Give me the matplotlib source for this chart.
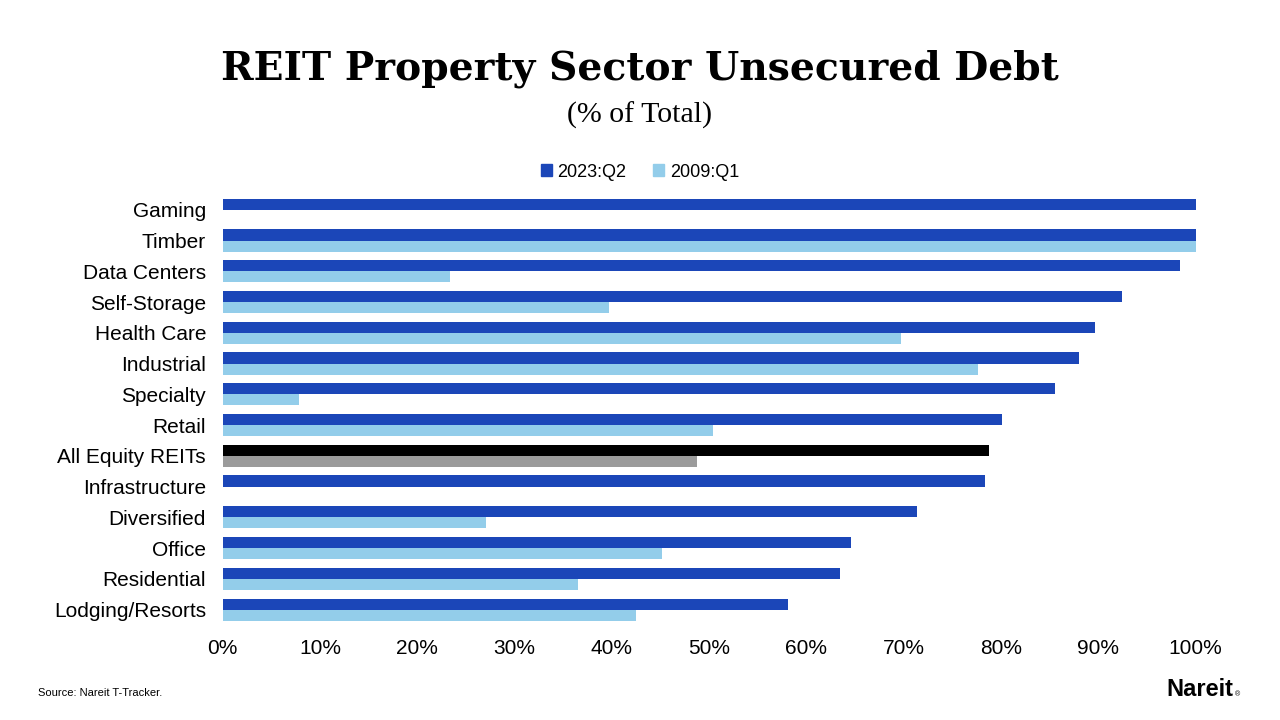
import numpy as np
import matplotlib
matplotlib.use("Agg")
import matplotlib.pyplot as plt
from matplotlib.patches import Patch

sectors = ["Gaming", "Timber", "Data Centers", "Self-Storage", "Health Care",
           "Industrial", "Specialty", "Retail", "All Equity REITs", "Infrastructure",
           "Diversified", "Office", "Residential", "Lodging/Resorts"]
q2_2023 = [100.0, 100.0, 98.4, 92.4, 89.7, 88.0, 85.6, 80.1, 78.8, 78.4, 71.4, 64.6, 63.5, 58.1]
q1_2009 = [0.0, 100.0, 23.4, 39.7, 69.7, 77.6, 7.8, 50.4, 48.8, 0.0, 27.1, 45.2, 36.5, 42.5]
xticks = [0, 10, 20, 30, 40, 50, 60, 70, 80, 90, 100]

dark_blue = "#1b46b8"
light_blue = "#93cdea"
highlight = "All Equity REITs"

plt.rcParams['font.family'] = ['Liberation Sans', 'DejaVu Sans']

fig = plt.figure(figsize=(12.8, 7.2), dpi=100)
ax = fig.add_axes([0.174, 0.132, 0.760, 0.598])

y = np.arange(len(sectors))
h = 0.36
c1 = ['black' if s == highlight else dark_blue for s in sectors]
c2 = ['#9b9b9b' if s == highlight else light_blue for s in sectors]
ax.barh(y - h / 2, q2_2023, height=h, color=c1)
ax.barh(y + h / 2, q1_2009, height=h, color=c2)

ax.set_ylim(len(sectors) - 0.5, -0.5)
ax.set_xlim(0, 100)
ax.set_yticks(y)
ax.set_yticklabels(sectors, fontsize=15)
ax.set_xticks(xticks)
ax.set_xticklabels(["%d%%" % v for v in xticks], fontsize=15)
ax.tick_params(axis='both', length=0)
ax.tick_params(axis='y', pad=12)
ax.tick_params(axis='x', pad=10)
for sp in ax.spines.values():
    sp.set_visible(False)

handles = [Patch(color=dark_blue, label="2023:Q2"), Patch(color=light_blue, label="2009:Q1")]
fig.legend(handles=handles, loc='center', bbox_to_anchor=(0.5, 0.761), ncol=2,
           frameon=False, fontsize=13, handlelength=0.6, handleheight=0.6,
           handletextpad=0.3, columnspacing=1.5)

fig.text(0.5, 0.905, "REIT Property Sector Unsecured Debt", ha='center', va='center',
         fontsize=28.3, fontweight='bold', family=['DejaVu Serif'])
fig.text(0.5, 0.840, "(% of Total)", ha='center', va='center', fontsize=21.5,
         family=['Liberation Serif'])
fig.text(0.030, 0.038, "Source: Nareit T-Tracker.", ha='left', va='center', fontsize=8)
fig.text(0.911, 0.042, "Nareit", ha='left', va='center', fontsize=17, fontweight='heavy')
fig.text(0.965, 0.035, "®", ha='left', va='center', fontsize=5)

fig.savefig("out.png", dpi=100)
